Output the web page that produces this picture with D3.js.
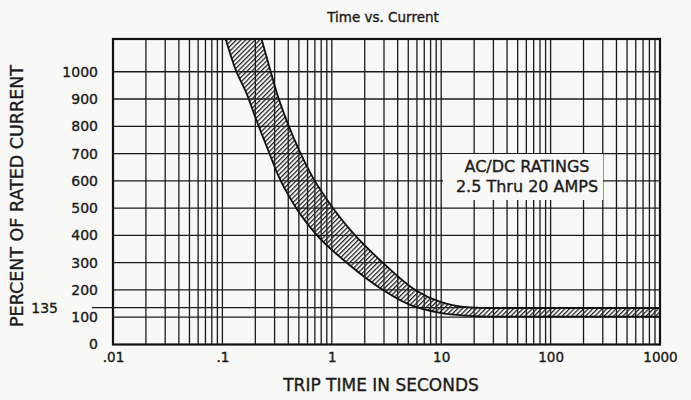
<!DOCTYPE html>
<html><head><meta charset="utf-8">
<script src="https://cdn.jsdelivr.net/npm/d3@7"></script>
<style>body{margin:0;background:#f8f8f6;} svg{display:block}</style>
</head><body><svg id="c" width="691" height="400"></svg>
<script>
// ---- data ----
const chartTitle = "Time vs. Current";
const xTitle = "TRIP TIME IN SECONDS";
const yTitle = "PERCENT OF RATED CURRENT";
const xTickValues = [0.01, 0.1, 1, 10, 100, 1000];
const xTickLabels = [".01", ".1", "1", "10", "100", "1000"];
const yTickValues = [0, 100, 200, 300, 400, 500, 600, 700, 800, 900, 1000];
const yTickLabels = ["0", "100", "200", "300", "400", "500", "600", "700", "800", "900", "1000"];
const markerValue = 135;
const markerLabel = "135";
const annotationLines = ["AC/DC RATINGS", "2.5 Thru 20 AMPS"];
// band boundaries: [trip time (s), percent of rated current]
const lowerCurve = [[0.107,1120],[0.13,1015],[0.168,916],[0.207,817],[0.261,714],[0.322,622],[0.442,519],[0.70,409],[1.38,299],[2.94,200],[5.2,145],[9.8,116],[16.5,106],[30,102],[1000,102]];
const upperCurve = [[0.228,1120],[0.27,1015],[0.318,916],[0.39,817],[0.5,714],[0.65,622],[0.95,519],[1.56,409],[2.94,299],[5.8,200],[9.8,156],[17,137],[30,133],[1000,133]];

// ---- layout ----
const svg = d3.select("#c");
const L = 113, R = 660, T = 39, B = 344.5;
const x = d3.scaleLog().domain([0.01, 1000]).range([L, R]);
const y = d3.scaleLinear().domain([0, 1120]).range([B, T]);
const ink = "#1a1a1a";
const font = "DejaVu Sans, sans-serif";
const txt = sel => sel.attr("font-family", font).attr("fill", ink).attr("stroke", ink).attr("stroke-width", 0.35);

svg.append("rect").attr("width", 691).attr("height", 400).attr("fill", "#f8f8f6");

const defs = svg.append("defs");
const pat = defs.append("pattern").attr("id", "hatch").attr("patternUnits", "userSpaceOnUse")
  .attr("width", 3.3).attr("height", 3.3).attr("patternTransform", "rotate(45)");
pat.append("line").attr("x1", 0.6).attr("y1", 0).attr("x2", 0.6).attr("y2", 3.3)
  .attr("stroke", "#222").attr("stroke-width", 1.3);
defs.append("clipPath").attr("id", "plotclip").append("rect")
  .attr("x", L).attr("y", T).attr("width", R - L).attr("height", B - T);

// vertical log grid
const grid = svg.append("g").attr("stroke", ink).attr("stroke-width", 1.3);
const vLines = [];
[0.01, 0.1, 1, 10, 100].forEach(d => { for (let m = 1; m <= 9; m++) vLines.push(d * m); });
grid.selectAll("line.v").data(vLines.filter(v => v > 0.01)).join("line")
  .attr("x1", d => x(d)).attr("x2", d => x(d)).attr("y1", T).attr("y2", B);
// horizontal grid
grid.selectAll("line.h").data(yTickValues.filter(v => v > 0)).join("line")
  .attr("x1", L).attr("x2", R).attr("y1", d => y(d)).attr("y2", d => y(d));
// 135 marker line
svg.append("line").attr("x1", 92).attr("x2", R).attr("y1", y(markerValue)).attr("y2", y(markerValue))
  .attr("stroke", ink).attr("stroke-width", 1.3);

// band
const bandG = svg.append("g").attr("clip-path", "url(#plotclip)");
const lineGen = d3.line().curve(d3.curveMonotoneX);
const lowerPath = lineGen(lowerCurve.map(d => [x(d[0]), y(d[1])]));
const upperPath = lineGen(upperCurve.map(d => [x(d[0]), y(d[1])]));
const upperRev = lineGen(upperCurve.slice().reverse().map(d => [x(d[0]), y(d[1])]));
bandG.append("path").attr("d", lowerPath + "L" + upperRev.slice(1) + "Z")
  .attr("fill", "url(#hatch)").attr("stroke", "none");
bandG.append("path").attr("d", lowerPath).attr("fill", "none").attr("stroke", "#111").attr("stroke-width", 1.8);
bandG.append("path").attr("d", upperPath).attr("fill", "none").attr("stroke", "#111").attr("stroke-width", 1.8);

// annotation
svg.append("rect").attr("x", 443).attr("y", 154).attr("width", 160).attr("height", 46).attr("fill", "#f8f8f6");
svg.append("g").selectAll("text").data(annotationLines).join("text")
  .attr("x", 527).attr("y", (d, i) => 172 + i * 20).attr("text-anchor", "middle")
  .attr("font-size", 16).call(txt).text(d => d);

// frame
svg.append("rect").attr("x", L).attr("y", T).attr("width", R - L).attr("height", B - T)
  .attr("fill", "none").attr("stroke", "#111").attr("stroke-width", 2.2);

// axes labels via d3 axes (domain/ticks hidden)
const xAxis = d3.axisBottom(x).tickValues(xTickValues).tickFormat((d, i) => xTickLabels[i]).tickSize(0).tickPadding(8);
const gx = svg.append("g").attr("transform", `translate(0,${B})`).call(xAxis);
gx.select(".domain").remove();
gx.selectAll("text").attr("font-size", 13.5).call(txt);

const yAxis = d3.axisLeft(y).tickValues(yTickValues).tickFormat((d, i) => yTickLabels[i]).tickSize(0).tickPadding(15);
const gy = svg.append("g").attr("transform", `translate(${L},0)`).call(yAxis);
gy.select(".domain").remove();
gy.selectAll("text").attr("font-size", 14).call(txt);

svg.append("text").attr("x", 58).attr("y", y(markerValue)).attr("dy", "0.35em").attr("text-anchor", "end")
  .attr("font-size", 14).call(txt).text(markerLabel);

svg.append("text").attr("x", 383).attr("y", 22).attr("text-anchor", "middle")
  .attr("font-size", 13.5).call(txt).text(chartTitle);
svg.append("text").attr("x", 381).attr("y", 391).attr("text-anchor", "middle")
  .attr("font-size", 17).call(txt).text(xTitle);
svg.append("text").attr("transform", "translate(23,196) rotate(-90)").attr("text-anchor", "middle")
  .attr("font-size", 17.5).call(txt).text(yTitle);
</script></body></html>
